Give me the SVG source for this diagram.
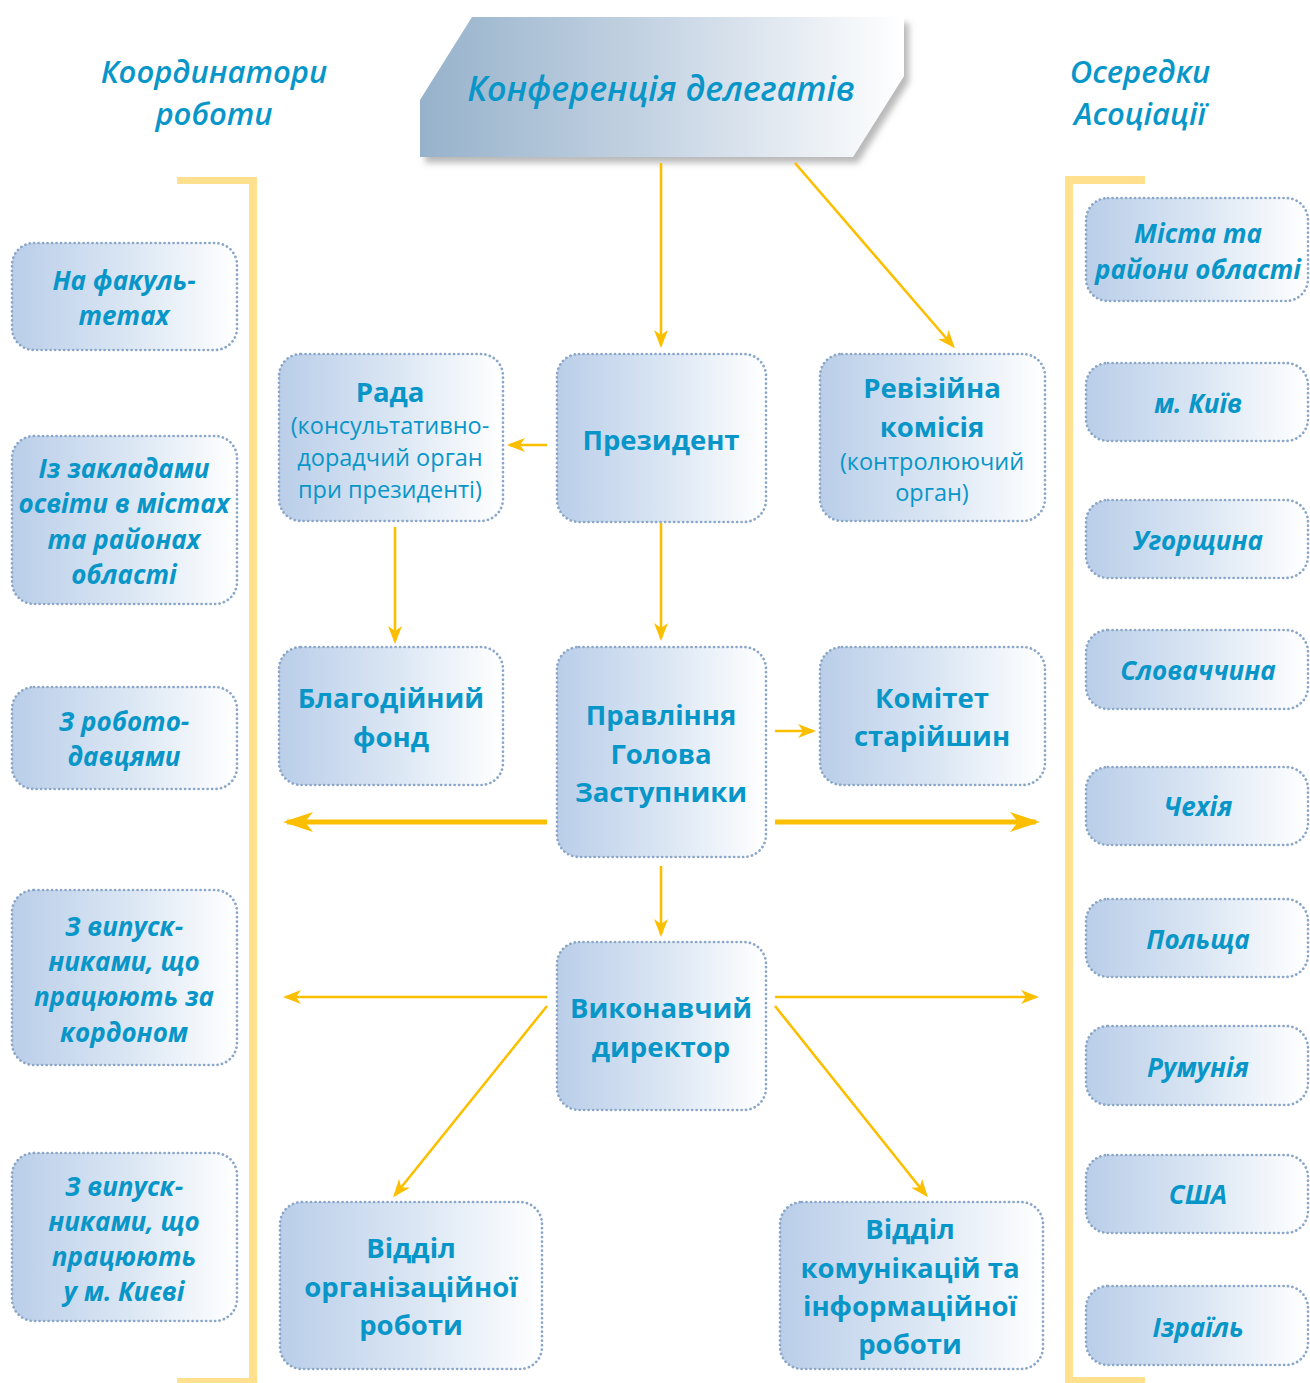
<svg xmlns="http://www.w3.org/2000/svg" width="1310" height="1383" viewBox="0 0 1310 1383">
<defs>
<linearGradient id="boxg" x1="0" y1="0" x2="1" y2="0">
<stop offset="0" stop-color="#bacee9"/>
<stop offset="0.5" stop-color="#d9e5f3"/>
<stop offset="1" stop-color="#ffffff"/>
</linearGradient>
<linearGradient id="bang" x1="0" y1="0" x2="1" y2="0">
<stop offset="0" stop-color="#96b2cb"/>
<stop offset="0.5" stop-color="#c7d5e4"/>
<stop offset="1" stop-color="#ffffff"/>
</linearGradient>
<filter id="sh" x="-10%" y="-10%" width="130%" height="140%">
<feDropShadow dx="5" dy="6" stdDeviation="3" flood-color="#8c8c8c" flood-opacity="0.6"/>
</filter>
<marker id="ah" markerUnits="userSpaceOnUse" viewBox="0 0 18 14" markerWidth="18" markerHeight="14" refX="15" refY="7" orient="auto">
<path d="M0,0 L18,7 L0,14 L5,7 z" fill="#fcbf00"/>
</marker>
<marker id="ahb" markerUnits="userSpaceOnUse" viewBox="0 0 30 20" markerWidth="30" markerHeight="20" refX="26" refY="10" orient="auto">
<path d="M0,0 L30,10 L0,20 L8,10 z" fill="#fcbf00"/>
</marker>
</defs>
<style>
.box{fill:url(#boxg);stroke:#8aa6c8;stroke-width:2.7;stroke-dasharray:0.1 4.4;stroke-linecap:round}
.t{font-family:"Open Sans","Noto Sans","DejaVu Sans",sans-serif;fill:#0896c9;text-anchor:middle}
.c{font-size:27.5px;font-weight:700}
.s{font-size:23.5px;font-weight:400}
.i{font-size:26px;font-weight:700;font-style:italic}
.h{font-size:31px;font-weight:600;font-style:italic}
.ln{stroke:#fcbf00;stroke-width:2.6;fill:none}
.lb{stroke:#fcbf00;stroke-width:5;fill:none}
.br{fill:#fee08f}
</style>
<rect width="1310" height="1383" fill="#ffffff"/>

<g id="brackets">
<rect class="br" x="177" y="177" width="80" height="7"/>
<rect class="br" x="249" y="177" width="8" height="1206"/>
<rect class="br" x="177" y="1378" width="80" height="5"/>
<rect class="br" x="1065" y="176" width="80" height="8"/>
<rect class="br" x="1065" y="176" width="8" height="1207"/>
<rect class="br" x="1065" y="1377" width="80" height="6"/>
</g>

<g id="headers">
<text class="t h" x="214" y="83">Координатори</text>
<text class="t h" x="214" y="125">роботи</text>
<text class="t h" x="1140" y="83">Осередки</text>
<text class="t h" x="1140" y="125">Асоціації</text>
</g>

<g id="conference">
<polygon points="472,17 904,17 904,76 853,157 420,157 420,100" fill="url(#bang)" filter="url(#sh)"/>
<text class="t" x="661" y="101" font-size="34" font-weight="600" font-style="italic">Конференція делегатів</text>
</g>

<g id="connectors">
<line class="ln" x1="661" y1="163" x2="661" y2="345" marker-end="url(#ah)"/>
<line class="ln" x1="795" y1="163" x2="953" y2="346" marker-end="url(#ah)"/>
<line class="ln" x1="547" y1="445" x2="510" y2="445" marker-end="url(#ah)"/>
<line class="ln" x1="395" y1="527" x2="395" y2="641" marker-end="url(#ah)"/>
<line class="ln" x1="661" y1="523" x2="661" y2="638" marker-end="url(#ah)"/>
<line class="ln" x1="775" y1="731" x2="813" y2="731" marker-end="url(#ah)"/>
<line class="lb" x1="547" y1="822" x2="287" y2="822" marker-end="url(#ahb)"/>
<line class="lb" x1="775" y1="822" x2="1036" y2="822" marker-end="url(#ahb)"/>
<line class="ln" x1="661" y1="866" x2="661" y2="934" marker-end="url(#ah)"/>
<line class="ln" x1="547" y1="997" x2="286" y2="997" marker-end="url(#ah)"/>
<line class="ln" x1="775" y1="997" x2="1036" y2="997" marker-end="url(#ah)"/>
<line class="ln" x1="547" y1="1006" x2="395" y2="1195" marker-end="url(#ah)"/>
<line class="ln" x1="775" y1="1006" x2="926" y2="1195" marker-end="url(#ah)"/>
</g>

<g id="rada">
<rect class="box" x="279" y="354" width="224" height="167" rx="22"/>
<text class="t c" x="390" y="402">Рада</text>
<text class="t s" x="390" y="434">(консультативно-</text>
<text class="t s" x="390" y="466">дорадчий орган</text>
<text class="t s" x="390" y="498">при президенті)</text>
</g>
<g id="president">
<rect class="box" x="557" y="354" width="209" height="168" rx="22"/>
<text class="t c" x="661" y="450">Президент</text>
</g>
<g id="revision">
<rect class="box" x="820" y="354" width="225" height="167" rx="22"/>
<text class="t c" x="932" y="398">Ревізійна</text>
<text class="t c" x="932" y="437">комісія</text>
<text class="t s" x="932" y="470">(контролюючий</text>
<text class="t s" x="932" y="501">орган)</text>
</g>
<g id="fund">
<rect class="box" x="279" y="647" width="224" height="138" rx="22"/>
<text class="t c" x="391" y="708">Благодійний</text>
<text class="t c" x="391" y="747">фонд</text>
</g>
<g id="board">
<rect class="box" x="557" y="647" width="209" height="210" rx="22"/>
<text class="t c" x="661" y="725">Правління</text>
<text class="t c" x="661" y="764">Голова</text>
<text class="t c" x="661" y="802">Заступники</text>
</g>
<g id="elders">
<rect class="box" x="820" y="647" width="225" height="138" rx="22"/>
<text class="t c" x="932" y="708">Комітет</text>
<text class="t c" x="932" y="746">старійшин</text>
</g>
<g id="director">
<rect class="box" x="557" y="942" width="209" height="168" rx="22"/>
<text class="t c" x="661" y="1018">Виконавчий</text>
<text class="t c" x="661" y="1057">директор</text>
</g>
<g id="org-dept">
<rect class="box" x="280" y="1202" width="262" height="167" rx="22"/>
<text class="t c" x="411" y="1258">Відділ</text>
<text class="t c" x="411" y="1297">організаційної</text>
<text class="t c" x="411" y="1335">роботи</text>
</g>
<g id="comm-dept">
<rect class="box" x="780" y="1202" width="263" height="167" rx="22"/>
<text class="t c" x="910" y="1239">Відділ</text>
<text class="t c" x="910" y="1278">комунікацій та</text>
<text class="t c" x="910" y="1316">інформаційної</text>
<text class="t c" x="910" y="1354">роботи</text>
</g>

<g id="left-1">
<rect class="box" x="12" y="243" width="225" height="107" rx="22"/>
<text class="t i" x="124" y="290">На факуль-</text>
<text class="t i" x="124" y="325">тетах</text>
</g>
<g id="left-2">
<rect class="box" x="12" y="436" width="225" height="168" rx="22"/>
<text class="t i" x="124" y="478">Із закладами</text>
<text class="t i" x="124" y="513">освіти в містах</text>
<text class="t i" x="124" y="549">та районах</text>
<text class="t i" x="124" y="584">області</text>
</g>
<g id="left-3">
<rect class="box" x="12" y="687" width="225" height="102" rx="22"/>
<text class="t i" x="124" y="731">З робото-</text>
<text class="t i" x="124" y="766">давцями</text>
</g>
<g id="left-4">
<rect class="box" x="12" y="890" width="225" height="175" rx="22"/>
<text class="t i" x="124" y="936">З випуск-</text>
<text class="t i" x="124" y="971">никами, що</text>
<text class="t i" x="124" y="1006">працюють за</text>
<text class="t i" x="124" y="1042">кордоном</text>
</g>
<g id="left-5">
<rect class="box" x="12" y="1153" width="225" height="168" rx="22"/>
<text class="t i" x="124" y="1196">З випуск-</text>
<text class="t i" x="124" y="1231">никами, що</text>
<text class="t i" x="124" y="1266">працюють</text>
<text class="t i" x="124" y="1301">у м. Києві</text>
</g>

<g id="right-1">
<rect class="box" x="1086" y="198" width="222" height="103" rx="22"/>
<text class="t i" x="1198" y="243">Міста та</text>
<text class="t i" x="1198" y="279">райони області</text>
</g>
<g id="right-2">
<rect class="box" x="1086" y="363" width="222" height="78" rx="22"/>
<text class="t i" x="1198" y="413">м. Київ</text>
</g>
<g id="right-3">
<rect class="box" x="1086" y="500" width="222" height="78" rx="22"/>
<text class="t i" x="1198" y="550">Угорщина</text>
</g>
<g id="right-4">
<rect class="box" x="1086" y="630" width="222" height="79" rx="22"/>
<text class="t i" x="1198" y="680">Словаччина</text>
</g>
<g id="right-5">
<rect class="box" x="1086" y="767" width="222" height="78" rx="22"/>
<text class="t i" x="1198" y="816">Чехія</text>
</g>
<g id="right-6">
<rect class="box" x="1086" y="899" width="222" height="78" rx="22"/>
<text class="t i" x="1198" y="949">Польща</text>
</g>
<g id="right-7">
<rect class="box" x="1086" y="1026" width="222" height="79" rx="22"/>
<text class="t i" x="1198" y="1077">Румунія</text>
</g>
<g id="right-8">
<rect class="box" x="1086" y="1155" width="222" height="78" rx="22"/>
<text class="t i" x="1198" y="1204">США</text>
</g>
<g id="right-9">
<rect class="box" x="1086" y="1286" width="222" height="79" rx="22"/>
<text class="t i" x="1198" y="1337">Ізраїль</text>
</g>
</svg>
